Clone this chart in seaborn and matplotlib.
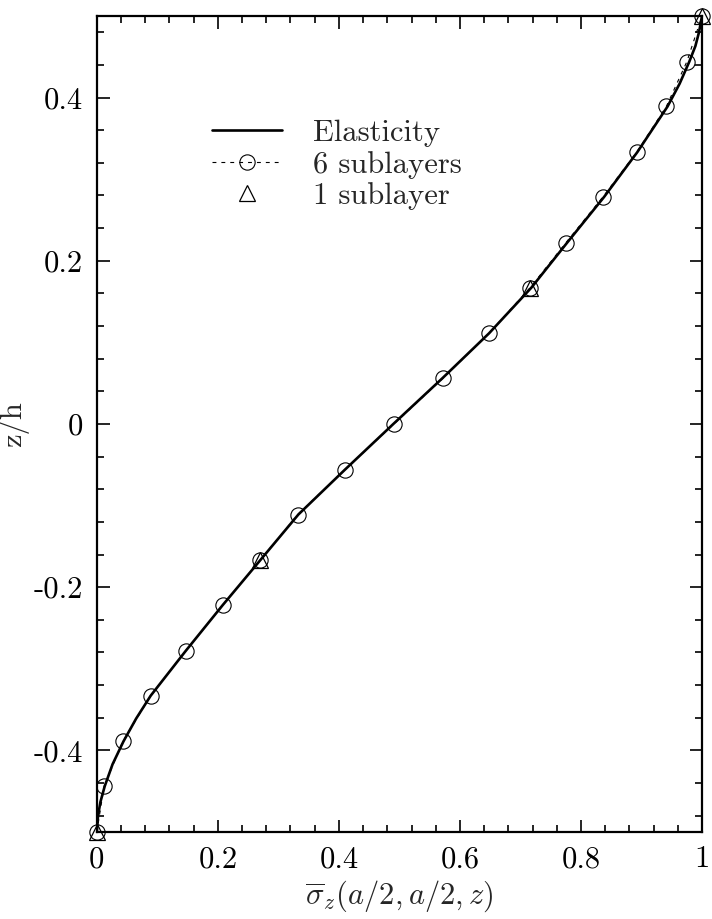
import matplotlib
matplotlib.use("Agg")
import matplotlib.pyplot as plt
from matplotlib.ticker import MultipleLocator, FixedLocator
import seaborn as sns
import pandas as pd

# ---- data ----
z_elastic = [-0.5, -0.48, -0.463, -0.444, -0.417, -0.389, -0.361, -0.333, -0.278, -0.222,
             -0.167, -0.111, -0.056, 0.0, 0.056, 0.111, 0.167, 0.222, 0.278, 0.333,
             0.389, 0.417, 0.444, 0.463, 0.48, 0.5]
x_elastic = [0.0, 0.002, 0.006, 0.013, 0.026, 0.044, 0.065, 0.089, 0.147, 0.208,
             0.270, 0.333, 0.410, 0.490, 0.571, 0.648, 0.718, 0.777, 0.838, 0.893,
             0.943, 0.963, 0.979, 0.989, 0.995, 1.0]

z_six = [-0.5, -0.444, -0.389, -0.333, -0.278, -0.222, -0.167, -0.111, -0.056, 0.0,
         0.056, 0.111, 0.167, 0.222, 0.278, 0.333, 0.389, 0.444, 0.5]
x_six = [0.0, 0.012, 0.043, 0.089, 0.147, 0.208, 0.270, 0.332, 0.410, 0.491,
         0.572, 0.648, 0.716, 0.775, 0.836, 0.892, 0.941, 0.975, 1.0]

z_one = [-0.5, -0.167, 0.167, 0.5]
x_one = [0.0, 0.270, 0.716, 1.0]

x_ticks = [0, 0.2, 0.4, 0.6, 0.8, 1.0]
x_ticklabels = ["0", "0.2", "0.4", "0.6", "0.8", "1"]
y_ticks = [-0.4, -0.2, 0, 0.2, 0.4]
y_ticklabels = ["-0.4", "-0.2", "0", "0.2", "0.4"]

labels = ["Elasticity", "6 sublayers", "1 sublayer"]

# ---- style ----
sns.set_style("ticks")
plt.rcParams["font.family"] = ["cmr10", "DejaVu Serif"]
plt.rcParams["mathtext.fontset"] = "cm"
plt.rcParams["axes.unicode_minus"] = False
plt.rcParams["axes.formatter.use_mathtext"] = True

fig = plt.figure(figsize=(7.12, 9.19), dpi=100)
ax = fig.add_axes([0.136, 0.0947, 0.850, 0.888])

df_el = pd.DataFrame({"x": x_elastic, "z": z_elastic})
df_six = pd.DataFrame({"x": x_six, "z": z_six})
df_one = pd.DataFrame({"x": x_one, "z": z_one})

sns.lineplot(data=df_el, x="x", y="z", sort=False, ax=ax, color="black",
             linewidth=1.9, label=labels[0], zorder=3)
sns.lineplot(data=df_six, x="x", y="z", sort=False, ax=ax, color="black",
             linewidth=0.8, linestyle=(0, (3.5, 4.5)), marker="o", markersize=11,
             markerfacecolor="none", markeredgecolor="black", markeredgewidth=0.8,
             label=labels[1], zorder=4, clip_on=False)
sns.lineplot(data=df_one, x="x", y="z", sort=False, ax=ax, color="black",
             linestyle="none", marker="^", markersize=12,
             markerfacecolor="none", markeredgecolor="black", markeredgewidth=0.9,
             label=labels[2], zorder=5, clip_on=False)

ax.set_xlim(0, 1)
ax.set_ylim(-0.5, 0.5)
ax.xaxis.set_major_locator(FixedLocator(x_ticks))
ax.set_xticklabels(x_ticklabels)
ax.yaxis.set_major_locator(FixedLocator(y_ticks))
ax.set_yticklabels(y_ticklabels)
ax.xaxis.set_minor_locator(MultipleLocator(0.04))
ax.yaxis.set_minor_locator(MultipleLocator(0.04))

ax.tick_params(which="both", direction="in", top=True, right=True,
               labelsize=22, width=1.2, colors="black", pad=10)
ax.tick_params(which="major", length=9)
ax.tick_params(which="minor", length=5)
for s in ax.spines.values():
    s.set_linewidth(1.6)
    s.set_color("black")
    s.set_visible(True)

ax.set_xlabel(r"$\overline{\sigma}_z(a/2,a/2,z)$", fontsize=22, labelpad=4)
ax.set_ylabel("z/h", fontsize=22, labelpad=3)

leg = ax.legend(loc="upper left", bbox_to_anchor=(0.19, 0.873), frameon=False,
                fontsize=22, handlelength=2.3, handletextpad=1.0,
                labelspacing=0.12, borderpad=0, borderaxespad=0, numpoints=1)

fig.savefig("out.png", dpi=100)
